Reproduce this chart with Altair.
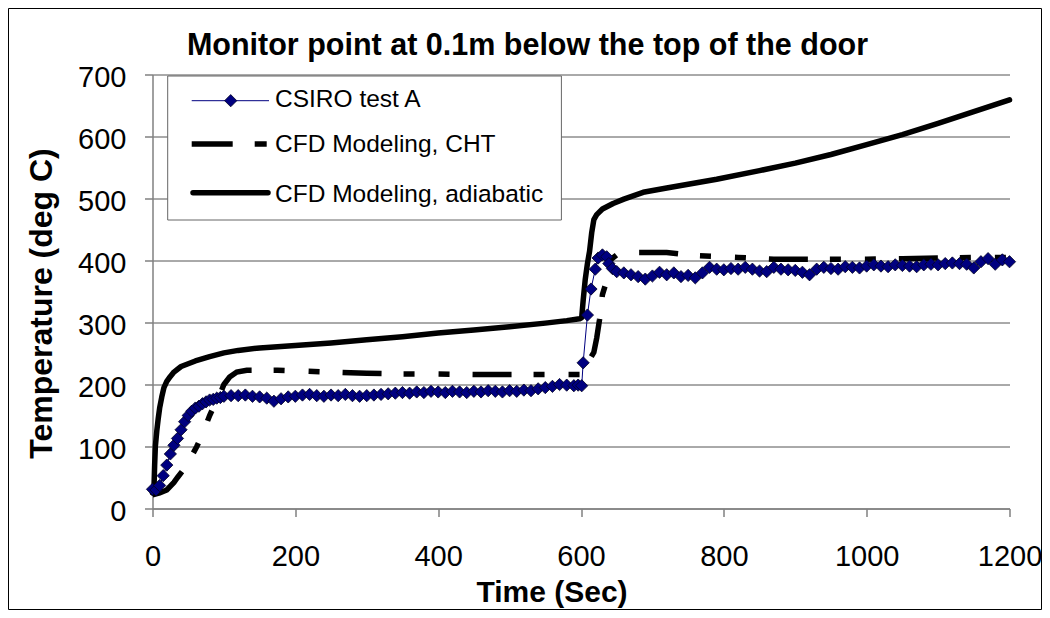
import altair as alt
import pandas as pd

# ---------------- data ----------------
TITLE = "Monitor point at 0.1m below the top of the door"
X_TITLE = "Time (Sec)"
Y_TITLE = "Temperature (deg C)"
LEGEND_LABELS = ["CSIRO test A", "CFD Modeling, CHT", "CFD Modeling, adiabatic"]
X_TICKS = [0, 200, 400, 600, 800, 1000, 1200]
Y_TICKS = [0, 100, 200, 300, 400, 500, 600, 700]

# CFD Modeling, adiabatic
ADIA_T = [0, 2, 3, 4, 6, 8, 10, 13, 16, 20,
          25, 30, 40, 60, 80, 100, 120, 150, 200, 250,
          300, 350, 400, 450, 500, 550, 580, 598, 601, 603,
          606, 609, 612, 615, 618, 622, 630, 645, 660, 687,
          720, 790, 850, 900, 950, 1000, 1050, 1100, 1150, 1200]
ADIA_V = [25, 30, 70, 100, 125, 145, 162, 180, 195, 205,
          213, 220, 229, 238, 245, 251, 255, 259, 263, 267,
          272, 277, 283, 288, 293, 299, 303, 306, 308, 335,
          370, 395, 415, 445, 466, 474, 483, 492, 499, 510,
          517, 531, 545, 557, 571, 587, 603, 621, 640, 659]

# CFD Modeling, CHT
CHT_T = [0, 10, 20, 30, 35, 45, 55, 62, 70, 80,
         90, 95, 100, 108, 118, 132, 150, 175, 200, 250,
         300, 350, 400, 450, 500, 550, 600, 606, 612, 618,
         622, 626, 630, 634, 640, 650, 665, 680, 720, 760,
         820, 870, 950, 1000, 1050, 1100, 1150, 1200]
CHT_V = [22, 25, 30, 42, 50, 65, 85, 100, 120, 150,
         175, 186, 200, 212, 220, 223, 223, 223, 222, 220,
         218, 217, 217, 216, 216, 216, 216, 220, 240, 252,
         275, 305, 345, 360, 400, 409, 412, 413, 413, 408,
         405, 402, 402, 402, 403, 404, 405, 405]

# CSIRO test A (measured)
CS_T = [0, 5, 10, 15, 20, 25, 30, 35, 40, 45,
        50, 55, 60, 65, 70, 75, 80, 85, 90, 95,
        100, 110, 120, 130, 140, 150, 160, 170, 180, 190,
        200, 210, 220, 230, 240, 250, 260, 270, 280, 290,
        300, 310, 320, 330, 340, 350, 360, 370, 380, 390,
        400, 410, 420, 430, 440, 450, 460, 470, 480, 490,
        500, 510, 520, 530, 540, 550, 560, 570, 580, 590,
        596, 601, 603, 609, 614, 620, 624, 630, 636, 639,
        644, 650, 660, 670, 680, 690, 700, 710, 720, 730,
        740, 750, 760, 770, 780, 790, 800, 810, 820, 830,
        840, 850, 860, 870, 880, 890, 900, 910, 920, 930,
        940, 950, 960, 970, 980, 990, 1000, 1010, 1020, 1030,
        1040, 1050, 1060, 1070, 1080, 1090, 1100, 1110, 1120, 1130,
        1140, 1150, 1160, 1170, 1180, 1190, 1200]
CS_V = [31, 30, 37, 53, 70, 88, 102, 113, 127, 140,
        150, 157, 162, 165, 169, 172, 175, 176, 178, 179,
        181, 182, 182, 183, 181, 180, 178, 173, 177, 180,
        181, 183, 184, 182, 181, 183, 182, 184, 182, 181,
        182, 183, 184, 185, 186, 187, 186, 188, 187, 189,
        188, 187, 189, 188, 187, 189, 188, 190, 189, 188,
        190, 189, 191, 190, 193, 195, 197, 200, 199, 198,
        199, 198, 235, 312, 354, 386, 404, 409, 406, 395,
        387, 382, 380, 377, 374, 370, 375, 381, 377, 380,
        374, 376, 372, 380, 389, 386, 385, 387, 386, 389,
        386, 383, 382, 389, 386, 385, 384, 381, 377, 386,
        389, 387, 386, 390, 389, 388, 391, 393, 391, 390,
        393, 392, 391, 390, 393, 394, 393, 395, 396, 395,
        394, 388, 398, 403, 394, 401, 398]

# ---------------- chart ----------------
FONT = "Liberation Sans"
W, H = 857, 434
PAD = {"left": 144.5, "top": 66.5, "right": 32.5, "bottom": 101.5}

adia_df = pd.DataFrame({"t": ADIA_T, "v": ADIA_V})
cht_df = pd.DataFrame({"t": CHT_T, "v": CHT_V})
cs_df = pd.DataFrame({"t": CS_T, "v": CS_V})

xs = alt.Scale(domain=[0, 1200], nice=False, zero=False)
ys = alt.Scale(domain=[0, 700], nice=False)

x_axis = alt.Axis(
    values=X_TICKS, title=X_TITLE, grid=False, format="d",
    domainColor="#808080", domainWidth=1.5, tickColor="#808080", tickWidth=1.5, tickSize=8,
    labelFont=FONT, labelFontSize=29, labelColor="black", labelPadding=26,
    labelFlush=False, labelOverlap=False, labelBound=False,
    titleFont=FONT, titleFontSize=30, titleFontWeight="bold", titleColor="black",
    titleX=399, titleY=84, titleAlign="center", titleBaseline="middle", zindex=0,
)
y_axis = alt.Axis(
    values=Y_TICKS, title=Y_TITLE, grid=True, gridColor="#555555", gridWidth=1, format="d",
    domainColor="#808080", domainWidth=1.5, tickColor="#808080", tickWidth=1.5, tickSize=8,
    labelFont=FONT, labelFontSize=29, labelColor="black", labelPadding=18.5, labelOffset=3,
    labelOverlap=False, labelBound=False, labelFlush=False,
    titleFont=FONT, titleFontSize=32, titleFontWeight="bold", titleColor="black",
    titleAngle=270, titleX=-110.6, titleY=228.5, titleAlign="center", titleBaseline="middle", zindex=0,
)

X = alt.X("t:Q", scale=xs, axis=x_axis)
Y = alt.Y("v:Q", scale=ys, axis=y_axis)

NAVY = "#000080"

cht = alt.Chart(cht_df).mark_line(
    color="black", strokeWidth=5.5, strokeDash=[39, 22, 11, 24, 11, 23], strokeCap="butt"
).encode(x=X, y=Y)
adia = alt.Chart(adia_df).mark_line(
    color="black", strokeWidth=5.5, strokeCap="round", strokeJoin="round"
).encode(x=X, y=Y)
cs_line = alt.Chart(cs_df).mark_line(color=NAVY, strokeWidth=1).encode(x=X, y=Y)
cs_pts = alt.Chart(cs_df).mark_point(
    shape="diamond", filled=True, fill=NAVY, stroke="#000022", strokeWidth=0.8, size=150, opacity=1
).encode(x=X, y=Y)

one = alt.Data(values=[{}])

# chart title as a text mark placed above the plot area
title_mark = alt.Chart(one).mark_text(
    text=TITLE, font=FONT, fontSize=30.5, fontWeight="bold", color="black",
    align="center", baseline="alphabetic",
).encode(x=alt.value(375), y=alt.value(-19.5))

# legend (drawn in the plot's pixel frame)
leg_box = alt.Chart(one).mark_rect(fill="white", stroke="#666666", strokeWidth=1).encode(
    x=alt.value(15.2), x2=alt.value(408.9), y=alt.value(1.5), y2=alt.value(145.5))
leg1_line = alt.Chart(one).mark_rule(color=NAVY, strokeWidth=1).encode(
    x=alt.value(39.2), x2=alt.value(116.5), y=alt.value(26.2))
leg1_pt = alt.Chart(one).mark_point(
    shape="diamond", filled=True, fill=NAVY, stroke="#000022", strokeWidth=0.8, size=150, opacity=1
).encode(x=alt.value(78.2), y=alt.value(26.2))
leg2_line = alt.Chart(one).mark_rule(color="black", strokeWidth=5.5, strokeDash=[41, 22, 12, 60], strokeCap="butt").encode(
    x=alt.value(39.2), x2=alt.value(114.2), y=alt.value(69.5))
leg3_line = alt.Chart(one).mark_rule(color="black", strokeWidth=5.5, strokeCap="round").encode(
    x=alt.value(40.5), x2=alt.value(115.5), y=alt.value(118.2))
leg_texts = [
    alt.Chart(one).mark_text(text=lab, font=FONT, fontSize=24.5, align="left", baseline="middle", color="black").encode(
        x=alt.value(122.5), y=alt.value(yy))
    for lab, yy in zip(LEGEND_LABELS, [25.2, 70.2, 120.2])
]

frame = alt.Chart(one).mark_rect(fill=None, stroke="black", strokeWidth=1).encode(
    x=alt.value(-144), x2=alt.value(889), y=alt.value(-66), y2=alt.value(535))

chart = alt.layer(
    cht, adia, cs_line, cs_pts,
    leg_box, leg1_line, leg1_pt, leg2_line, leg3_line, *leg_texts,
    title_mark, frame,
).properties(
    width=W, height=H,
    autosize=alt.AutoSizeParams(type="none"),
    padding=PAD,
    background="white",
).configure_view(stroke=None)

chart.save("out.html", embed_options={"renderer": "svg", "actions": False})
